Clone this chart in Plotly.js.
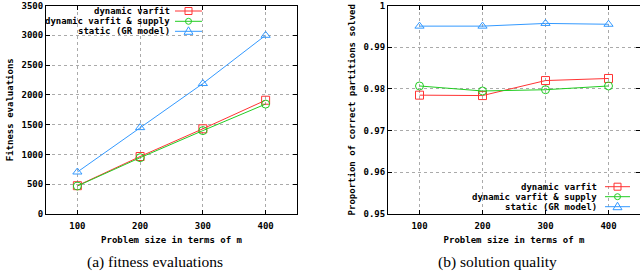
<!DOCTYPE html>
<html><head><meta charset="utf-8">
<script src="https://cdn.plot.ly/plotly-3.0.1.min.js"></script>
<style>html,body{margin:0;padding:0;background:#fff}</style>
</head><body><div id="chart" style="width:640px;height:271px"></div>
<script>
// ---- data ----
const problemSize = [100, 200, 300, 400];
const seriesNames = ["dynamic varfit", "dynamic varfit & supply", "static (GR model)"];
const evalsVarfit = [475, 965, 1430, 1910];
const evalsVarfitSupply = [470, 945, 1400, 1845];
const evalsStatic = [705, 1450, 2190, 3000];
const qualVarfit = [0.9785, 0.9784, 0.9820, 0.9825];
const qualVarfitSupply = [0.9807, 0.9795, 0.9798, 0.9807];
const qualStatic = [0.99505, 0.99505, 0.9957, 0.9955];
const evalTicks = [0, 500, 1000, 1500, 2000, 2500, 3000, 3500];
const qualTicks = [0.95, 0.96, 0.97, 0.98, 0.99, 1];

const colors = ["#ff3333", "#22cc22", "#3399ff"];
const symbols = ["square-open", "circle-open", "triangle-up-open"];
const monoFont = {family: "DejaVu Sans Mono", size: 9, color: "#000", weight: "bold"};

function tr(y, i, xa, ya) {
  return {x: problemSize, y: y, name: seriesNames[i], xaxis: xa, yaxis: ya,
    type: "scatter", mode: "lines+markers", showlegend: false,
    line: {color: colors[i], width: 1},
    marker: {symbol: symbols[i], size: 8, color: colors[i], line: {width: 1, color: colors[i]}}};
}
const data = [
  tr(evalsVarfit, 0, "x", "y"), tr(evalsVarfitSupply, 1, "x", "y"), tr(evalsStatic, 2, "x", "y"),
  tr(qualVarfit, 0, "x2", "y2"), tr(qualVarfitSupply, 1, "x2", "y2"), tr(qualStatic, 2, "x2", "y2")
];

const W = 640, H = 271;
const px = v => v / W, py = v => 1 - v / H;

function xaxisDef(domain, anchor) {
  return {domain: domain, anchor: anchor, range: [50, 450], tickvals: problemSize,
    ticktext: problemSize.map(String), ticks: "inside", ticklen: 4, tickcolor: "#000",
    showline: true, linecolor: "#000", linewidth: 1, mirror: "ticks",
    showgrid: true, gridcolor: "#aaa", griddash: "dot", gridwidth: 1, zeroline: false,
    tickfont: monoFont, ticklabelstandoff: 3, ticklabeloverflow: "allow",
    title: {text: "Problem size in terms of m", font: monoFont, standoff: 6}};
}
function yaxisDef(domain, anchor, range, ticks, title) {
  return {domain: domain, anchor: anchor, range: range, tickvals: ticks,
    ticktext: ticks.map(String), ticks: "inside", ticklen: 4, tickcolor: "#000",
    showline: true, linecolor: "#000", linewidth: 1, mirror: "ticks",
    showgrid: true, gridcolor: "#aaa", griddash: "dot", gridwidth: 1, zeroline: false,
    tickfont: monoFont, ticklabeloverflow: "allow",
    title: {text: title, font: monoFont, standoff: 6}};
}

// custom legends (text right, sample on the right), gnuplot style
const shapes = [], annotations = [];
function legend(textRight, lineX0, lineX1, rows) {
  const mx = (lineX0 + lineX1) / 2;
  rows.forEach((ry, i) => {
    annotations.push({xref: "paper", yref: "paper", x: px(textRight), y: py(ry),
      xanchor: "right", yanchor: "middle", showarrow: false, text: seriesNames[i], font: monoFont});
    shapes.push({type: "line", xref: "paper", yref: "paper", x0: px(lineX0), x1: px(lineX1),
      y0: py(ry), y1: py(ry), line: {color: colors[i], width: 1}});
    const s = 3.5;
    if (i === 0) shapes.push({type: "rect", xref: "paper", yref: "paper",
      x0: px(mx - s), x1: px(mx + s), y0: py(ry - s), y1: py(ry + s),
      line: {color: colors[i], width: 1}, fillcolor: "rgba(0,0,0,0)"});
    if (i === 1) shapes.push({type: "circle", xref: "paper", yref: "paper",
      x0: px(mx - 3), x1: px(mx + 3), y0: py(ry - 3), y1: py(ry + 3),
      line: {color: colors[i], width: 1}, fillcolor: "rgba(0,0,0,0)"});
    if (i === 2) shapes.push({type: "path", xref: "paper", yref: "paper",
      path: `M ${px(mx)} ${py(ry - 4.5)} L ${px(mx + 4.5)} ${py(ry + 3)} L ${px(mx - 4.5)} ${py(ry + 3)} Z`,
      line: {color: colors[i], width: 1}, fillcolor: "rgba(0,0,0,0)"});
  });
}
legend(172, 175, 202, [11, 21.3, 31.3]);
legend(599, 605, 630, [186.7, 196.7, 206.7]);

const captionFont = {family: "Liberation Serif", size: 15.5, color: "#000"};
annotations.push({xref: "paper", yref: "paper", x: px(155), y: py(262), xanchor: "center", yanchor: "middle",
  showarrow: false, text: "(a) fitness evaluations", font: captionFont});
annotations.push({xref: "paper", yref: "paper", x: px(497), y: py(262), xanchor: "center", yanchor: "middle",
  showarrow: false, text: "(b) solution quality", font: captionFont});

const ydom = [py(214), py(5.5)];
const layout = {
  width: W, height: H, margin: {l: 0, r: 0, t: 0, b: 0},
  paper_bgcolor: "#fff", plot_bgcolor: "#fff", showlegend: false,
  xaxis: xaxisDef([px(46), px(297)], "y"),
  yaxis: yaxisDef(ydom, "x", [0, 3500], evalTicks, "Fitness evaluations"),
  xaxis2: xaxisDef([px(388), 1], "y2"),
  yaxis2: yaxisDef(ydom, "x2", [0.95, 1], qualTicks, "Proportion of correct partitions solved"),
  shapes: shapes, annotations: annotations
};
Plotly.newPlot("chart", data, layout, {displayModeBar: false, staticPlot: true});
</script></body></html>
